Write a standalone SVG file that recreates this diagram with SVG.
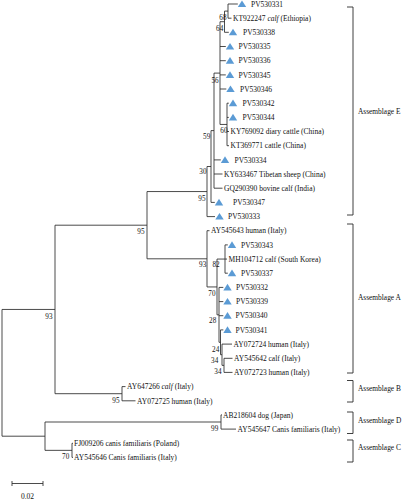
<svg xmlns="http://www.w3.org/2000/svg" xmlns:xlink="http://www.w3.org/1999/xlink" width="402" height="500" viewBox="0 0 402 500">
<style>
.ln{fill:none;stroke:#2a2a2a;stroke-width:0.85}
.br{fill:none;stroke:#2a2a2a;stroke-width:0.9}
text{font-family:"Liberation Serif","Times New Roman",serif;fill:#111111}
.lf{font-size:7.5px}
.bs{font-size:7.2px;text-anchor:end}
.as{font-size:7.4px}
.tri{fill:#5b9bd5}
</style>
<defs>
<path id="tri" class="tri" d="M0 -3.6 L4.2 3 L-4.2 3 Z"/>
</defs>
<rect width="402" height="500" fill="#ffffff"/>
<g id="connectors" class="ln">
<path d="M2 309.45V436.2M2 309.45H55M2 436.2H45"/>
<path d="M55 225.2V393.7M55 225.2H147M55 393.7H122"/>
<path d="M147 191.55V258.8M147 191.55H207M147 258.8H207"/>
<path d="M207 166.5V216.6M207 166.5H211M207 216.6H215"/>
<path d="M211 130.6V202.4M211 130.6H214M211 202.4H214.8"/>
<path d="M214 73.1V188.2M214 73.1H220M214 159.9H220.8M214 174H222.5M214 188.2H222.5"/>
<path d="M220 21.7V124.45M220 21.7H224.5M220 46.5H225.8M220 60.7H225.8M220 74.9H225.8M220 89H226.3M220 124.45H227"/>
<path d="M224.5 11.1V32.3M224.5 11.1H228M224.5 32.3H228.8"/>
<path d="M228 4V18.2M228 4H237.8M228 18.2H231.5"/>
<path d="M227 103.2V145.7M227 103.2H228.8M227 117.4H228.8M227 131.5H229M227 145.7H229"/>
<path d="M207 230.7V286.95M207 230.7H209.5M207 286.95H217"/>
<path d="M217 259.05V314.85M217 259.05H225M217 314.85H219"/>
<path d="M225 244.9V273.2M225 244.9H227.8M225 259.05H227M225 273.2H227.8"/>
<path d="M219 287.4V342.3M219 287.4H223.3M219 301.6H223.3M219 315.7H223.3M219 342.3H220.5"/>
<path d="M220.5 329.9V354.7M220.5 329.9H223.3M220.5 354.7H222"/>
<path d="M222 344.1V365.35M222 344.1H232M222 365.35H224"/>
<path d="M224 358.3V372.4M224 358.3H232.5M224 372.4H232.5"/>
<path d="M122 386.6V400.8M122 386.6H125.5M122 400.8H135.5"/>
<path d="M45 422V450.35M45 422H221M45 450.35H72"/>
<path d="M221 414.9V429.1M221 414.9H222M221 429.1H236"/>
<path d="M72 443.3V457.4M72 443.3H73M72 457.4H73"/>
</g>
<g id="bootstrap">
<text class="bs" x="226.5" y="19.5">68</text>
<text class="bs" x="223.3" y="30.8">64</text>
<text class="bs" x="218.7" y="82.5">56</text>
<text class="bs" x="227.5" y="133.2">60</text>
<text class="bs" x="210.3" y="139.2">59</text>
<text class="bs" x="206.5" y="174.2">30</text>
<text class="bs" x="205.5" y="200.8">95</text>
<text class="bs" x="206.3" y="266.8">93</text>
<text class="bs" x="219.7" y="266.8">82</text>
<text class="bs" x="215.5" y="295.5">70</text>
<text class="bs" x="216.3" y="322.5">28</text>
<text class="bs" x="219.3" y="351.5">24</text>
<text class="bs" x="218.3" y="363.2">34</text>
<text class="bs" x="221.5" y="373.5">34</text>
<text class="bs" x="144.5" y="234.2">95</text>
<text class="bs" x="52.5" y="319.2">93</text>
<text class="bs" x="119.5" y="402.8">95</text>
<text class="bs" x="218.3" y="430.8">99</text>
<text class="bs" x="69.3" y="459.2">70</text>
</g>
<g id="leaf-PV530331"><use xlink:href="#tri" x="242" y="4"/><text class="lf" x="251" y="6.7">PV530331</text></g>
<g id="leaf-KT922247"><text class="lf" x="233" y="20.9">KT922247 <tspan font-style="italic">calf</tspan> (Ethiopia)</text></g>
<g id="leaf-PV530338"><use xlink:href="#tri" x="233" y="32.3"/><text class="lf" x="243" y="35">PV530338</text></g>
<g id="leaf-PV530335"><use xlink:href="#tri" x="230" y="46.5"/><text class="lf" x="238.5" y="49.2">PV530335</text></g>
<g id="leaf-PV530336"><use xlink:href="#tri" x="230" y="60.7"/><text class="lf" x="238.5" y="63.4">PV530336</text></g>
<g id="leaf-PV530345"><use xlink:href="#tri" x="230" y="74.9"/><text class="lf" x="238.5" y="77.6">PV530345</text></g>
<g id="leaf-PV530346"><use xlink:href="#tri" x="230.5" y="89"/><text class="lf" x="240" y="91.7">PV530346</text></g>
<g id="leaf-PV530342"><use xlink:href="#tri" x="233" y="103.2"/><text class="lf" x="242.5" y="105.9">PV530342</text></g>
<g id="leaf-PV530344"><use xlink:href="#tri" x="233" y="117.4"/><text class="lf" x="242.5" y="120.1">PV530344</text></g>
<g id="leaf-KY769092"><text class="lf" x="230.5" y="134.2">KY769092 diary cattle (China)</text></g>
<g id="leaf-KT369771"><text class="lf" x="230.5" y="148.4">KT369771 cattle (China)</text></g>
<g id="leaf-PV530334"><use xlink:href="#tri" x="225" y="159.9"/><text class="lf" x="234.5" y="162.6">PV530334</text></g>
<g id="leaf-KY633467"><text class="lf" x="224" y="176.7">KY633467 Tibetan sheep (China)</text></g>
<g id="leaf-GQ290390"><text class="lf" x="224" y="190.9">GQ290390 bovine calf (India)</text></g>
<g id="leaf-PV530347"><use xlink:href="#tri" x="219" y="202.4"/><text class="lf" x="233" y="205.1">PV530347</text></g>
<g id="leaf-PV530333"><use xlink:href="#tri" x="219.5" y="216.6"/><text class="lf" x="228" y="219.3">PV530333</text></g>
<g id="leaf-AY545643"><text class="lf" x="211" y="233.4">AY545643 human (Italy)</text></g>
<g id="leaf-PV530343"><use xlink:href="#tri" x="232" y="244.9"/><text class="lf" x="241" y="247.6">PV530343</text></g>
<g id="leaf-MH104712"><text class="lf" x="228.5" y="261.8">MH104712 calf (South Korea)</text></g>
<g id="leaf-PV530337"><use xlink:href="#tri" x="232" y="273.2"/><text class="lf" x="241" y="275.9">PV530337</text></g>
<g id="leaf-PV530332"><use xlink:href="#tri" x="227.5" y="287.4"/><text class="lf" x="236" y="290.1">PV530332</text></g>
<g id="leaf-PV530339"><use xlink:href="#tri" x="227.5" y="301.6"/><text class="lf" x="236" y="304.3">PV530339</text></g>
<g id="leaf-PV530340"><use xlink:href="#tri" x="227.5" y="315.7"/><text class="lf" x="235.5" y="318.4">PV530340</text></g>
<g id="leaf-PV530341"><use xlink:href="#tri" x="227.5" y="329.9"/><text class="lf" x="235.5" y="332.6">PV530341</text></g>
<g id="leaf-AY072724"><text class="lf" x="233.5" y="346.8">AY072724 human (Italy)</text></g>
<g id="leaf-AY545642"><text class="lf" x="234" y="361">AY545642 calf (Italy)</text></g>
<g id="leaf-AY072723"><text class="lf" x="234" y="375.1">AY072723 human (Italy)</text></g>
<g id="leaf-AY647266"><text class="lf" x="127" y="389.3">AY647266 <tspan font-style="italic">calf</tspan> (Italy)</text></g>
<g id="leaf-AY072725"><text class="lf" x="137" y="403.5">AY072725 human (Italy)</text></g>
<g id="leaf-AB218604"><text class="lf" x="223" y="417.6">AB218604 dog (Japan)</text></g>
<g id="leaf-AY545647"><text class="lf" x="237.5" y="431.8">AY545647 Canis familiaris (Italy)</text></g>
<g id="leaf-FJ009206"><text class="lf" x="74" y="446">FJ009206 canis familiaris (Poland)</text></g>
<g id="leaf-AY545646"><text class="lf" x="74" y="460.1">AY545646 Canis familiaris (Italy)</text></g>
<g id="assemblage-E"><path class="br" d="M347 7H353V215H347"/><text class="as" x="358" y="113.5">Assemblage E</text></g>
<g id="assemblage-A"><path class="br" d="M347 224H353V373H347"/><text class="as" x="358" y="299.5">Assemblage A</text></g>
<g id="assemblage-B"><path class="br" d="M347 380.5H353V402H347"/><text class="as" x="358" y="391">Assemblage B</text></g>
<g id="assemblage-D"><path class="br" d="M347 412H353V433.5H347"/><text class="as" x="358" y="422.5">Assemblage D</text></g>
<g id="assemblage-C"><path class="br" d="M347 440H353V462H347"/><text class="as" x="358" y="449.5">Assemblage C</text></g>
<g id="scale-bar">
<path class="ln" d="M12 483.5H43M12 481V486M43 481V486"/>
<text class="lf" x="27.5" y="499" text-anchor="middle">0.02</text>
</g>
</svg>
